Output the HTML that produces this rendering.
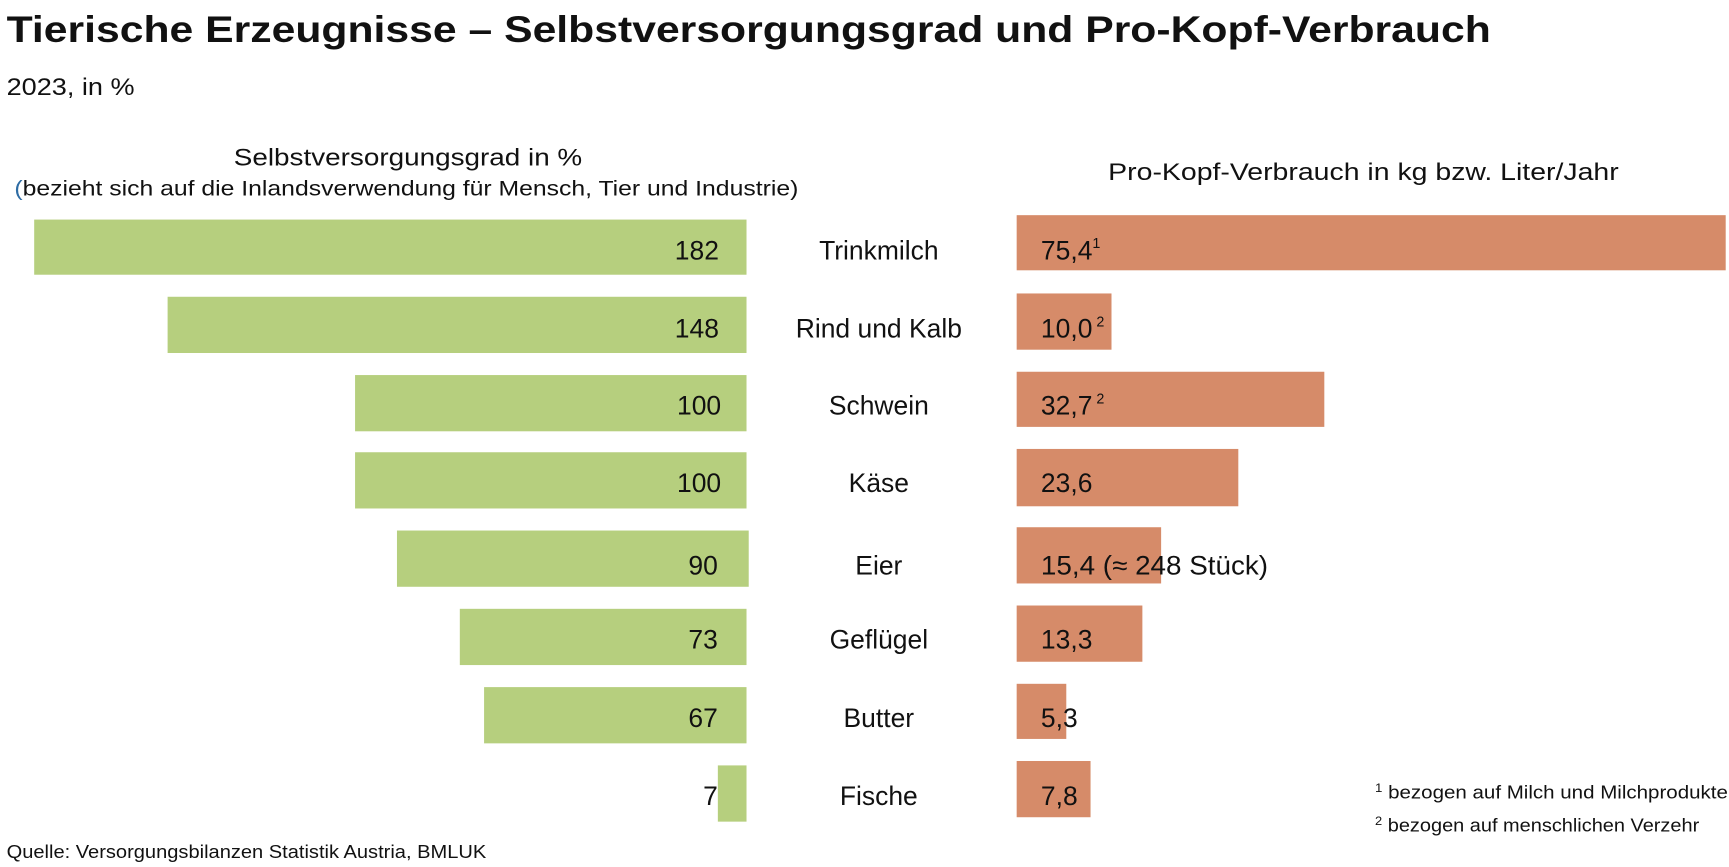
<!DOCTYPE html>
<html><head><meta charset="utf-8"><style>
html,body{margin:0;padding:0;background:#fff;}
svg{display:block;font-family:"Liberation Sans",sans-serif;}
</style></head><body>
<svg width="1729" height="867" viewBox="0 0 1568 786" xmlns="http://www.w3.org/2000/svg">
<text x="6" y="38" font-size="34" font-weight="bold" fill="#111" textLength="1346" lengthAdjust="spacingAndGlyphs">Tierische Erzeugnisse – Selbstversorgungsgrad und Pro-Kopf-Verbrauch</text>
<text x="6" y="86" font-size="22" fill="#111" textLength="116" lengthAdjust="spacingAndGlyphs">2023, in %</text>
<text x="212" y="150" font-size="22" fill="#111" textLength="316" lengthAdjust="spacingAndGlyphs">Selbstversorgungsgrad in %</text>
<text x="13" y="177" font-size="19" fill="#111" textLength="711" lengthAdjust="spacingAndGlyphs"><tspan fill="#2e6ca4">(</tspan>bezieht sich auf die Inlandsverwendung für Mensch, Tier und Industrie)</text>
<text x="1005" y="163" font-size="22" fill="#111" textLength="463" lengthAdjust="spacingAndGlyphs">Pro-Kopf-Verbrauch in kg bzw. Liter/Jahr</text>
<g fill="#b6cf7e">
<rect x="31" y="199" width="646" height="50"/>
<rect x="152" y="269" width="525" height="51"/>
<rect x="322" y="340" width="355" height="51"/>
<rect x="322" y="410" width="355" height="51"/>
<rect x="360" y="481" width="319" height="51"/>
<rect x="417" y="552" width="260" height="51"/>
<rect x="439" y="623" width="238" height="51"/>
<rect x="651" y="694" width="26" height="51"/>
</g>
<g fill="#d68b69">
<rect x="922" y="195" width="643" height="50"/>
<rect x="922" y="266" width="86" height="51"/>
<rect x="922" y="337" width="279" height="50"/>
<rect x="922" y="407" width="201" height="52"/>
<rect x="922" y="478" width="131" height="51"/>
<rect x="922" y="549" width="114" height="51"/>
<rect x="922" y="620" width="45" height="50"/>
<rect x="922" y="690" width="67" height="51"/>
</g>
<g font-size="24" fill="#111" text-anchor="end">
<text x="652" y="235">182</text>
<text x="652" y="306">148</text>
<text x="654" y="376">100</text>
<text x="654" y="446">100</text>
<text x="651" y="521">90</text>
<text x="651" y="588">73</text>
<text x="651" y="659">67</text>
<text x="651" y="730">7</text>
</g>
<g font-size="24" fill="#111" text-anchor="middle">
<text x="797" y="235">Trinkmilch</text>
<text x="797" y="306">Rind und Kalb</text>
<text x="797" y="376">Schwein</text>
<text x="797" y="446">Käse</text>
<text x="797" y="521">Eier</text>
<text x="797" y="588">Geflügel</text>
<text x="797" y="659">Butter</text>
<text x="797" y="730">Fische</text>
</g>
<g font-size="24" fill="#111">
<text x="944" y="235">75,4<tspan font-size="13" dy="-10">1</tspan></text>
<text x="944" y="306">10,0<tspan font-size="13" dy="-10"> 2</tspan></text>
<text x="944" y="376">32,7<tspan font-size="13" dy="-10"> 2</tspan></text>
<text x="944" y="446">23,6</text>
<text x="944" y="521" textLength="206" lengthAdjust="spacingAndGlyphs">15,4 (≈ 248 Stück)</text>
<text x="944" y="588">13,3</text>
<text x="944" y="659">5,3</text>
<text x="944" y="730">7,8</text>
</g>
<g font-size="17" fill="#111">
<text x="1247" y="724" textLength="320" lengthAdjust="spacingAndGlyphs"><tspan font-size="11" dy="-6">1</tspan><tspan dy="6"> bezogen auf Milch und Milchprodukte</tspan></text>
<text x="1247" y="754" textLength="294" lengthAdjust="spacingAndGlyphs"><tspan font-size="11" dy="-6">2</tspan><tspan dy="6"> bezogen auf menschlichen Verzehr</tspan></text>
<text x="6" y="778" textLength="435" lengthAdjust="spacingAndGlyphs">Quelle: Versorgungsbilanzen Statistik Austria, BMLUK</text>
</g>
</svg>
</body></html>
